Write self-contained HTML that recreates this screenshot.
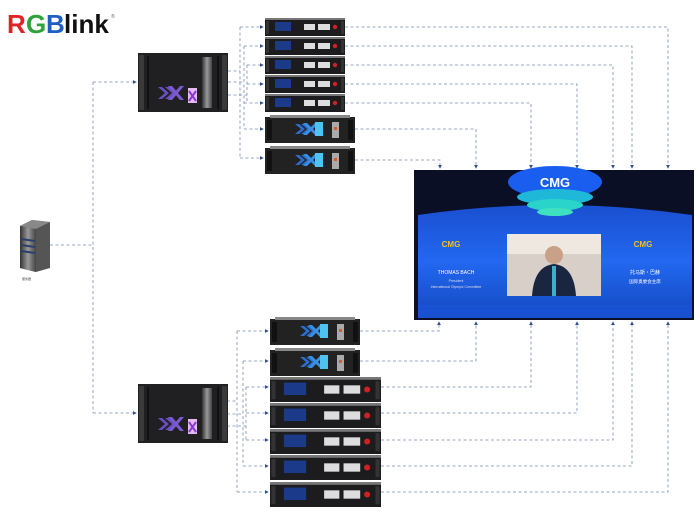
<!DOCTYPE html>
<html><head><meta charset="utf-8"><style>
html,body{margin:0;padding:0;background:#fff;width:700px;height:512px;overflow:hidden}
svg{display:block}
</style></head><body>
<svg width="700" height="512" viewBox="0 0 700 512" xmlns="http://www.w3.org/2000/svg" font-family="Liberation Sans, sans-serif">
<defs>
<linearGradient id="sv" x1="0" x2="1"><stop offset="0" stop-color="#333"/><stop offset=".5" stop-color="#999"/><stop offset="1" stop-color="#444"/></linearGradient>
<linearGradient id="scr" x1="0" y1="0" x2="0" y2="1"><stop offset="0" stop-color="#1a4fd0"/><stop offset=".5" stop-color="#2268f0"/><stop offset="1" stop-color="#1448c0"/></linearGradient>
<symbol id="small" viewBox="0 0 80 18"><rect x="0" y="1" width="80" height="17" fill="#1c1c1e"/><rect x="0" y="0" width="80" height="2" fill="#777"/><rect x="1" y="3" width="3" height="13" fill="#333"/><rect x="76" y="3" width="3" height="13" fill="#333"/><rect x="10" y="4" width="16" height="9" fill="#1b3a8a"/><rect x="39" y="6" width="11" height="6" fill="#ddd"/><rect x="53" y="6" width="12" height="6" fill="#ddd"/><circle cx="70" cy="9" r="2.2" fill="#c22"/></symbol>
<symbol id="xbox" viewBox="0 0 90 28"><rect x="0" y="2" width="90" height="26" fill="#222"/><rect x="5" y="0" width="80" height="3" fill="#888"/><rect x="2" y="5" width="5" height="20" fill="#111"/><rect x="83" y="5" width="5" height="20" fill="#111"/><path d="M30 9 l6 5 -6 5 h4 l6 -5 -6 -5z M36 9 l6 5 -6 5 h4 l6 -5 -6 -5z" fill="#2a6fd0"/><path d="M42 8 l12 12 h-4 l-12 -12z M54 8 l-12 12 h-4 l12 -12z" fill="#3a8fe0"/><rect x="50" y="7" width="8" height="14" fill="#4fc3f0"/><rect x="67" y="7" width="7" height="16" fill="#aaa"/><rect x="69" y="12" width="3" height="3" fill="#e05a20"/></symbol>
<symbol id="bigbox" viewBox="0 0 90 59"><rect x="0" y="0" width="90" height="59" fill="#202022"/><rect x="1" y="2" width="5" height="55" fill="#3a3a3a"/><rect x="84" y="2" width="5" height="55" fill="#3a3a3a"/><rect x="9" y="3" width="2" height="53" fill="#111"/><rect x="79" y="3" width="2" height="53" fill="#111"/><rect x="64" y="4" width="10" height="51" fill="url(#sv)"/><path d="M20 34 l7 6 -7 6 h4 l7 -6 -7 -6z M27 34 l7 6 -7 6 h4 l7 -6 -7 -6z" fill="#6a4fc0"/><path d="M34 33 l12 14 h-4 l-12 -14z M46 33 l-12 14 h-4 l12 -14z" fill="#7b5ad0"/><rect x="50" y="35" width="9" height="15" fill="#e6b8f5"/><path d="M51 38 l7 10 M58 38 l-7 10" stroke="#8a3ad0" stroke-width="2"/></symbol>
<marker id="ar" markerWidth="5" markerHeight="5" refX="4" refY="2.5" orient="auto"><path d="M0 0 L5 2.5 L0 5z" fill="#34508a"/></marker>
</defs>

<!-- logo -->
<text x="7" y="33" font-size="26" font-weight="bold" fill="#e32228">R</text>
<text x="26" y="33" font-size="26" font-weight="bold" fill="#2fa33a">G</text>
<text x="46" y="33" font-size="26" font-weight="bold" fill="#1f5fc4">B</text>
<text x="64" y="33" font-size="26" font-weight="bold" fill="#111">link</text>
<text x="111" y="18" font-size="5" fill="#666">®</text>

<g fill="none" stroke="#7a8cb0" stroke-width="0.8" stroke-dasharray="3,2.5">
<path d="M50 245 H93 M93 82 V413"/>
<path d="M93 82 H136" marker-end="url(#ar)"/>
<path d="M93 413 H136" marker-end="url(#ar)"/>
<path d="M228 71 H240 M240 27 V158 M228 82 H244 M244 46 V129 M228 95 H247 M247 65 V103"/>
<path d="M240 27 H263" marker-end="url(#ar)"/>
<path d="M244 46 H263" marker-end="url(#ar)"/>
<path d="M247 65 H263" marker-end="url(#ar)"/>
<path d="M247 84 H263" marker-end="url(#ar)"/>
<path d="M244 103 H263" marker-end="url(#ar)"/>
<path d="M244 129 H263" marker-end="url(#ar)"/>
<path d="M240 158 H263" marker-end="url(#ar)"/>
<path d="M345 27 H668 V168" marker-end="url(#ar)"/>
<path d="M345 46 H632 V168" marker-end="url(#ar)"/>
<path d="M345 65 H613 V168" marker-end="url(#ar)"/>
<path d="M345 84 H577 V168" marker-end="url(#ar)"/>
<path d="M345 103 H531 V168" marker-end="url(#ar)"/>
<path d="M355 129 H476 V168" marker-end="url(#ar)"/>
<path d="M355 160 H440 V168" marker-end="url(#ar)"/>
<path d="M227 401 H237 M237 331 V492 M227 414 H243 M243 361 V466 M227 426 H246 M246 387 V440"/>
<path d="M237 331 H268" marker-end="url(#ar)"/>
<path d="M243 361 H268" marker-end="url(#ar)"/>
<path d="M246 387 H268" marker-end="url(#ar)"/>
<path d="M246 413 H268" marker-end="url(#ar)"/>
<path d="M246 440 H268" marker-end="url(#ar)"/>
<path d="M243 466 H268" marker-end="url(#ar)"/>
<path d="M237 492 H268" marker-end="url(#ar)"/>
<path d="M360 331 H439 V322" marker-end="url(#ar)"/>
<path d="M360 361 H476 V322" marker-end="url(#ar)"/>
<path d="M381 387 H531 V322" marker-end="url(#ar)"/>
<path d="M381 413 H577 V322" marker-end="url(#ar)"/>
<path d="M381 440 H613 V322" marker-end="url(#ar)"/>
<path d="M381 466 H632 V322" marker-end="url(#ar)"/>
<path d="M381 492 H668 V322" marker-end="url(#ar)"/>
</g>

<!-- server -->
<path d="M20 226 L32 220 L50 222 L50 268 L36 272 L20 268z" fill="#555"/>
<path d="M20 226 L36 229 L36 272 L20 268z" fill="url(#sv)"/>
<path d="M20 226 L32 220 L50 222 L36 229z" fill="#888"/>
<path d="M21 239 L35 241 M21 245 L35 247 M21 251 L35 253" stroke="#2a3f6a" stroke-width="2"/>
<text x="22" y="280" font-size="3" fill="#444">服务器</text>

<use href="#bigbox" x="138" y="53" width="90" height="59"/>
<use href="#bigbox" x="138" y="384" width="90" height="59"/>

<use href="#small" x="265" y="18" width="80" height="18"/>
<use href="#small" x="265" y="37" width="80" height="18"/>
<use href="#small" x="265" y="56" width="80" height="18"/>
<use href="#small" x="265" y="75" width="80" height="18"/>
<use href="#small" x="265" y="94" width="80" height="18"/>
<use href="#xbox" x="265" y="115" width="90" height="28" preserveAspectRatio="none"/>
<use href="#xbox" x="265" y="146" width="90" height="28" preserveAspectRatio="none"/>

<use href="#xbox" x="270" y="317" width="90" height="28" preserveAspectRatio="none"/>
<use href="#xbox" x="270" y="348" width="90" height="28" preserveAspectRatio="none"/>
<use href="#small" x="270" y="377" width="111" height="25" preserveAspectRatio="none"/>
<use href="#small" x="270" y="403" width="111" height="25" preserveAspectRatio="none"/>
<use href="#small" x="270" y="429" width="111" height="25" preserveAspectRatio="none"/>
<use href="#small" x="270" y="455" width="111" height="25" preserveAspectRatio="none"/>
<use href="#small" x="270" y="482" width="111" height="25" preserveAspectRatio="none"/>

<!-- screen -->
<rect x="414" y="170" width="280" height="150" fill="#0a0f25"/>
<path d="M418 215 Q554 195 692 215 L692 318 L418 318z" fill="url(#scr)"/>
<ellipse cx="555" cy="182" rx="47" ry="16" fill="#1a5ef0"/>
<ellipse cx="555" cy="197" rx="38" ry="8" fill="#1fb8d8"/>
<ellipse cx="555" cy="205" rx="28" ry="6" fill="#2ad4c8"/>
<ellipse cx="555" cy="212" rx="18" ry="4" fill="#3ee0c0"/>
<text x="555" y="187" font-size="13" font-weight="bold" fill="#fff" text-anchor="middle">CMG</text>
<rect x="507" y="234" width="94" height="62" fill="#d8d0c8"/>
<rect x="507" y="234" width="94" height="20" fill="#efe8e0"/>
<circle cx="554" cy="255" r="9" fill="#c9a088"/>
<path d="M532 296 Q534 266 554 264 Q574 266 576 296z" fill="#1a2540"/>
<rect x="552" y="266" width="4" height="30" fill="#3bb0c8"/>
<text x="451" y="247" font-size="8" font-weight="bold" fill="#f0c020" text-anchor="middle">CMG</text>
<text x="643" y="247" font-size="8" font-weight="bold" fill="#f0c020" text-anchor="middle">CMG</text>
<text x="456" y="274" font-size="5" fill="#fff" text-anchor="middle">THOMAS BACH</text>
<text x="456" y="282" font-size="3.5" fill="#dde" text-anchor="middle">President</text>
<text x="456" y="288" font-size="3.5" fill="#dde" text-anchor="middle">International Olympic Committee</text>
<text x="645" y="274" font-size="5" fill="#fff" text-anchor="middle" font-family="Noto Sans CJK SC, sans-serif">托马斯·巴赫</text>
<text x="645" y="283" font-size="4.5" fill="#fff" text-anchor="middle" font-family="Noto Sans CJK SC, sans-serif">国际奥委会主席</text>
<rect x="418" y="305" width="274" height="13" fill="#1a55d8" opacity=".6"/>
</svg>
</body></html>
